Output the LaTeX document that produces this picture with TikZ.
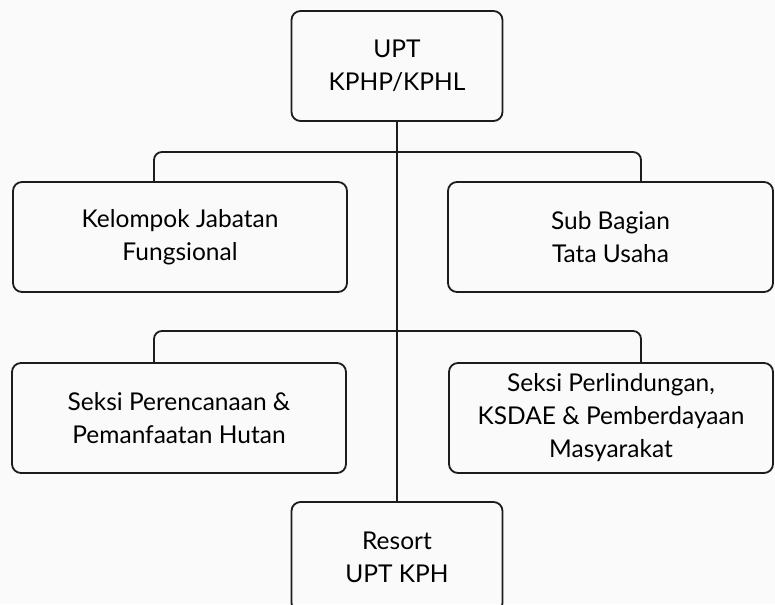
\documentclass[tikz,border=0pt]{standalone}
\usepackage{fontspec}
\setmainfont{Lato}
\usepackage{xcolor}
\definecolor{Col1}{RGB}{28,28,28}
\definecolor{Col5}{RGB}{250,250,250}
\usepackage{tikz}
\tikzstyle{Box}=[draw=Col1,line width=1.8pt,rounded corners=9pt,
align=center,inner sep=0pt,minimum height=110pt,
font=\fontsize{24.5}{33}\selectfont]
\tikzstyle{Edge}=[draw=Col1,line width=1.8pt,rounded corners=8pt]

\begin{document}
\begin{tikzpicture}[x=1pt,y=-1pt]
            \clip(0,0)rectangle(775,604);
            \fill[Col5](0,0)rectangle(775,604);
            \node[Box,minimum width=211pt](upt)at(397,66)
                {UPT\\KPHP/KPHL};
            \node[Box,minimum width=334pt](kjf)at(180,237)
                {Kelompok Jabatan\\Fungsional};
            \node[Box,minimum width=325pt](sbtu)at(610.5,237)
                {Sub Bagian\\Tata Usaha};
            \node[Box,minimum width=334pt](sppu)at(179,418)
                {Seksi Perencanaan \&\\Pemanfaatan Hutan};
            \node[Box,minimum width=324pt](spkp)at(611,418)
                {Seksi Perlindungan,\\KSDAE \& Pemberdayaan\\Masyarakat};
            \node[Box,minimum width=211pt](resort)at(397,557)
                {Resort\\UPT KPH};
            \coordinate(l1)at(154,152);
            \coordinate(r1)at(641,152);
            \coordinate(l2)at(154,331);
            \coordinate(r2)at(641,331);
            \draw[Edge](upt.south)--(resort.north);
            \draw[Edge](kjf.north-|l1)--(l1)--(r1)--(sbtu.north-|r1);
            \draw[Edge](sppu.north-|l2)--(l2)--(r2)--(spkp.north-|r2);
        \end{tikzpicture}
\end{document}
